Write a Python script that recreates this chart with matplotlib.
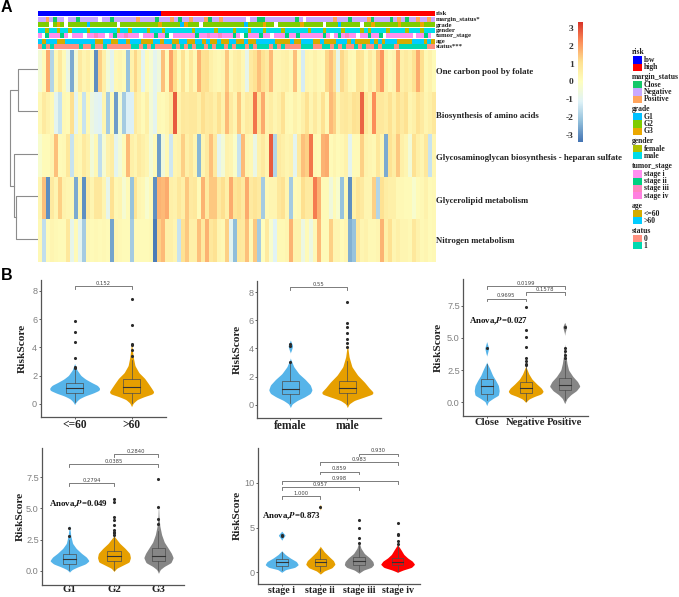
import numpy as np
import matplotlib
matplotlib.use("Agg")
import matplotlib.pyplot as plt
from matplotlib.colors import LinearSegmentedColormap, to_rgb
from matplotlib.patches import Rectangle

plt.rcParams['font.family'] = ['Liberation Serif', 'DejaVu Serif']
plt.rcParams['mathtext.fontset'] = 'stix'

W, H = 679, 597

# ---- panel A data
pathways = ["One carbon pool by folate", "Biosynthesis of amino acids",
            "Glycosaminoglycan biosynthesis - heparan sulfate",
            "Glycerolipid metabolism", "Nitrogen metabolism"]
one_carbon = [-0.5, 0.1, 1.8, -1.8, 0.2, 0.8, 0.1, -0.8, -2.6, -0.5,
              0.7, 0.3, 0.5, 0.1, -3.0, 1.3, 0.5, -0.5, -1.0, 0.2,
              0.3, 0.1, -2.2, 0.4, 1.2, 0.5, -1.0, 0.1, -0.4, -1.0,
              -0.6, 1.5, 0.1, 1.9, 1.1, 0.1, 1.0, 0.1, 0.8, 0.2,
              1.7, 1.0, 1.1, 0.5, 0.3, 0.2, 0.3, 1.4, 0.2, 0.5,
              0.6, 0.2, -0.9, 0.7, 1.0, 1.5, 1.0, 0.7, 1.6, 0.3,
              0.3, 0.4, 0.5, 0.2, 1.5, 0.1, -1.3, 0.3, 0.2, 0.4,
              0.2, 0.1, 1.2, 1.5, 1.0, -0.9, 1.2, 0.7, 0.2, 0.1,
              1.0, 0.9, 0.2, 0.7, 0.3, 1.4, 2.1, 0.5, 0.1, 0.3,
              1.8, 0.5, 0.7, 0.5, 1.0, 1.8, 1.1, 0.2, 0.4, 0.1]
amino_acids = [0.2, 0.7, 0.4, 0.2, -1.0, -1.5, 0.2, 0.1, 1.1, -1.0,
               0.1, -1.5, 0.2, -0.7, -1.0, -1.1, 0.3, -2.0, 0.1, -2.8,
               -0.5, -2.0, -1.2, -1.2, 0.7, 0.4, 0.1, 0.5, -0.5, -1.0,
               0.2, 0.1, 0.3, 0.7, 2.8, 0.4, 0.8, 0.7, 0.8, 0.8,
               0.5, 1.1, 0.7, 0.8, 0.5, 1.0, 0.4, 1.6, 0.7, 0.3,
               1.4, 0.3, 0.7, 0.6, 2.5, 0.8, 1.8, 0.4, 0.6, 0.3,
               0.5, 1.0, 0.2, 0.1, 0.4, 0.2, 0.5, 1.0, 0.3, 0.7,
               0.3, 1.0, 0.2, 1.6, 1.3, 0.3, 0.7, 0.8, 0.6, 1.0,
               0.9, 2.7, 0.8, 0.4, 2.2, 0.8, 0.8, 0.6, 1.0, 0.5,
               1.1, 0.7, 1.0, 0.3, 0.5, 1.0, 0.7, 0.3, 0.5, 0.8]
glycosamino = [-0.3, 0.1, 0.1, 0.3, 1.5, 0.1, 0.2, 0.8, -1.5, 0.3,
               0.2, 0.7, 0.4, -0.5, 0.2, -1.6, -0.4, 0.4, 0.6, -1.0,
               -0.5, 0.1, 1.6, 0.5, 0.3, 0.7, 0.5, 0.3, -0.5, 0.1,
               -2.8, -0.6, 0.2, -1.4, 0.3, 0.4, 1.3, 0.5, 0.8, 0.3,
               -2.4, 0.3, 0.7, 1.5, 0.7, -1.0, -0.5, 0.4, 0.3, -0.2,
               -1.5, 1.6, 0.3, 0.2, -0.8, 0.4, 0.7, 0.3, 2.8, -1.8,
               0.7, 0.5, 0.3, 0.4, -1.0, 0.7, 1.5, 1.3, 2.5, 0.2,
               0.1, 1.7, 1.8, 0.1, 0.3, 0.1, 0.2, 0.4, -1.0, 0.1,
               0.1, 1.3, 0.4, 0.3, 0.2, 0.8, 0.3, -2.6, 1.0, 0.6,
               1.4, 0.5, 0.3, -0.5, 1.0, 0.5, 0.3, 0.8, -1.5, 0.3]
glycerolipid = [0.3, 1.5, -3.0, 0.7, 0.3, 1.3, 0.4, 0.3, 0.2, -2.6,
                0.3, -3.0, 0.7, 0.3, 0.8, 0.8, 0.3, -0.9, 1.0, 0.2,
                0.3, -0.4, 0.1, -2.2, 0.9, 0.3, 0.2, -0.3, 0.1, -3.0,
                1.7, 1.6, 1.8, 0.5, 0.4, 0.8, 0.5, 1.4, 0.7, 0.8,
                0.1, 1.7, 0.7, 1.4, 1.4, 0.7, 1.1, 0.5, 1.8, 0.9,
                1.1, 0.7, 1.8, 0.7, 0.9, 0.7, -2.0, 0.2, 0.3, 0.3,
                0.8, 1.0, 0.3, -2.0, 0.1, 0.2, 1.1, 0.7, 0.7, 2.4,
                1.7, 0.1, 0.1, -0.6, 0.1, -0.3, -2.2, 0.2, -3.0, 0.5,
                0.9, 0.7, 0.3, 0.3, 1.3, -1.8, 1.0, 0.6, 0.5, 0.5,
                0.2, 0.2, 0.1, 0.1, -0.3, 0.1, 0.2, 0.4, 0.1, 0.2]
nitrogen = [0.2, -1.6, 0.1, 0.3, 0.2, 0.1, 0.1, 0.8, -0.9, 0.1,
            -1.0, -2.0, 0.2, 0.1, 0.2, 0.1, 0.2, 0.1, -2.7, 0.3,
            0.2, 0.1, 0.1, -2.0, 0.1, 0.1, 0.1, 0.1, 0.2, -3.3,
            1.3, 1.6, 0.5, 0.5, 0.3, -1.5, 1.0, 1.4, 0.5, 0.5,
            1.5, 0.7, 1.7, 0.8, 1.0, 0.3, 0.2, 1.3, -1.0, -2.3,
            0.8, 0.7, 1.5, 0.1, 1.4, -2.0, 0.0, 0.7, -0.3, -1.1,
            0.2, 0.2, 0.3, 1.7, 0.4, 0.4, -0.7, 0.1, -0.7, 0.2,
            1.6, 0.1, 0.1, 1.3, 0.3, 0.3, 0.1, 0.3, -2.5, -2.2,
            0.8, 0.3, 0.4, 0.2, 0.2, 0.3, 1.7, 0.5, 1.0, 0.3,
            0.5, 0.3, 0.3, 0.2, 0.8, 0.4, 0.2, 0.3, 0.1, 0.2]
heat_rows = [one_carbon, amino_acids, glycosamino, glycerolipid, nitrogen]

# leaf order 0-4, heights of the merges of the row tree
tree_top = 20
tree_low = 22
tree_mid = 24
tree_root = 28

risk_track = "L" * 31 + "H" * 69
margin_track = ("NNPNCNNWNNCNNNNNWNNCNNNNNNPNNNNCNNNPNCNNPNNNPCNNPNNN"
                "NNNWNNCCNNNNNNNNCNWNNNNNNNPNNNCNNNNPCNNNNCNPNCNNPNNPN")
grade_track = ("BBBWBABWBBBBBCBBBBBBBWBBBBBBBBBBABBBBBCABBBWBBBBBBBBB"
               "BBCBBBBABBWBBBBBBABBBBBWBBBCBBBBBWBBABBBBBBABBBBBABBB")
gender_track = ("MMFMMFMMFMMMMFMMMMMMMFMMFMMMMFMMMFMMMMMMMFMMMMMFMMMMF"
                "MMMFMMMFMMMMFMMMMMMFMMMFMMMMFMMMMFMFMMMMFMMMMFMMMFMMM")
stage_track = ("AWBAAABAWAAAWAACAAWABAACAAAWAAABAABWAAAAAABAACAACAAA"
               "BAWBAAABAAWAAABAABAAAAAABAWABACAAWAABAABWAAAAAAAWAABAW")
age_track = ("YOYYYOOYYYYYYYYOOYYOOYYOYYYOOOYYOYYOOYYOOYYOYOOYOOYY"
             "OOYOOYYYYYOOOOYOOYYYOOYOOOYYYOYOOOOYOYOYYYOOOOYYYOYO")
status_track = ("0101000000100100100000011010100001010101101011010110"
                "1011101010000111001101010010100101110111111100")
track_names = ["risk", "margin_status*", "grade", "gender", "tumor_stage", "age", "status***"]
tracks = [risk_track, margin_track, grade_track, gender_track, stage_track, age_track, status_track]

risk_colors = {"L": "#0000FF", "H": "#FF0000"}
margin_colors = {"C": "#14C86A", "N": "#C9A8FF", "P": "#FFA45C", "W": "#FFFFFF"}
grade_colors = {"C": "#00C0FF", "B": "#7FCC00", "A": "#EBA800", "W": "#FFFFFF"}
gender_colors = {"F": "#B0C000", "M": "#00DCE8"}
stage_colors = {"A": "#FF90F0", "B": "#00D080", "C": "#FF85C0", "W": "#FFFFFF"}
age_colors = {"O": "#D4AC00", "Y": "#00CCFF"}
status_colors = {"0": "#FF9080", "1": "#00D8B0"}
track_maps = [risk_colors, margin_colors, grade_colors, gender_colors, stage_colors, age_colors, status_colors]

legend_groups = [
    ("risk", ["low", "high"], ["#0000FF", "#FF0000"]),
    ("margin_status", ["Close", "Negative", "Positive"], ["#14C86A", "#C9A8FF", "#FFA45C"]),
    ("grade", ["G1", "G2", "G3"], ["#00C0FF", "#7FCC00", "#EBA800"]),
    ("gender", ["female", "male"], ["#B0C000", "#00DCE8"]),
    ("tumor_stage", ["stage i", "stage ii", "stage iii", "stage iv"],
     ["#FF90F0", "#00D080", "#FF85C0", "#FF80E0"]),
    ("age", ["<=60", ">60"], ["#D4AC00", "#00CCFF"]),
    ("status", ["0", "1"], ["#FF9080", "#00D8B0"]),
]
legend_title_y = [52, 76.7, 108.7, 140.7, 166, 205.7, 230.7]

# ---- panel B data
BLUE, ORANGE, GREY, RED = "#56B4E9", "#E69F00", "#868686", "#FF0000"

age_cats = ["<=60", ">60"]
age_levels = [[-0.05, 0.15, 0.35, 0.55, 0.75, 0.95, 1.1, 1.3, 1.5, 1.75, 2.0, 2.4, 2.85],
              [-0.2, 0.05, 0.3, 0.5, 0.7, 0.85, 1.1, 1.4, 1.8, 2.2, 2.7, 3.3, 4.3]]
age_widths = [[0, 0.03, 0.08, 0.18, 0.32, 0.43, 0.44, 0.40, 0.30, 0.19, 0.11, 0.04, 0],
              [0, 0.03, 0.10, 0.22, 0.37, 0.39, 0.35, 0.30, 0.23, 0.13, 0.06, 0.03, 0]]
age_boxes = [(0.1, 0.75, 1.1, 1.45, 2.4), (0.05, 0.75, 1.2, 1.72, 3.1)]
age_out = [[5.85, 5.1, 4.4, 3.25, 2.6, 2.5], [7.4, 5.6, 4.2, 4.15, 3.8, 3.4]]

gender_cats = ["female", "male"]
gender_levels = [[-0.2, 0.05, 0.3, 0.55, 0.8, 1.05, 1.4, 1.8, 2.2, 2.7, 3.3, 3.7, 3.9, 4.2, 4.6],
                 [-0.2, 0.05, 0.3, 0.55, 0.75, 0.9, 1.2, 1.6, 2.1, 2.7, 3.4, 4.3]]
gender_widths = [[0, 0.03, 0.12, 0.25, 0.35, 0.38, 0.35, 0.26, 0.15, 0.06, 0, 0, 0.02, 0.04, 0],
                 [0, 0.03, 0.12, 0.30, 0.44, 0.45, 0.38, 0.30, 0.18, 0.08, 0.03, 0]]
gender_boxes = [(0.1, 0.75, 1.15, 1.7, 3.0), (0.05, 0.8, 1.2, 1.7, 3.1)]
gender_out = [[4.35, 4.15, 3.05], [7.3, 5.8, 5.5, 5.1, 4.7, 4.4, 4.1]]

margin_cats = ["Close", "Negative", "Positive"]
margin_levels = [[-0.25, 0.05, 0.3, 0.55, 0.9, 1.3, 1.7, 2.1, 2.6, 3.1, 3.6, 3.8, 4.2, 4.7],
                 [0.0, 0.25, 0.45, 0.65, 0.85, 1.1, 1.4, 1.8, 2.2, 2.8],
                 [-0.1, 0.3, 0.6, 0.9, 1.25, 1.6, 2.0, 2.5, 3.0, 3.6, 4.5, 5.2, 5.4, 5.85, 6.2]]
margin_widths = [[0, 0.04, 0.16, 0.3, 0.32, 0.3, 0.23, 0.15, 0.08, 0, 0, 0.02, 0.05, 0],
                 [0, 0.08, 0.22, 0.4, 0.45, 0.4, 0.29, 0.16, 0.08, 0],
                 [0, 0.06, 0.16, 0.3, 0.39, 0.33, 0.21, 0.1, 0.06, 0.03, 0, 0, 0.01, 0.05, 0]]
margin_boxes = [(0.2, 0.65, 1.25, 1.8, 3.0), (0.1, 0.75, 1.1, 1.6, 2.8), (0.2, 0.95, 1.35, 1.9, 3.2)]
margin_out = [[4.2], [7.4, 5.6, 5.1, 4.3, 3.4, 3.2, 3.0, 2.9], [5.85, 4.2, 4.0, 3.7, 3.4]]

grade_cats = ["G1", "G2", "G3"]
grade_levels = [[-0.1, 0.1, 0.3, 0.55, 0.8, 1.1, 1.4, 1.8, 2.2, 2.8, 3.7],
                [-0.05, 0.2, 0.45, 0.7, 1.05, 1.4, 1.8, 2.2, 2.8],
                [-0.2, 0.1, 0.35, 0.65, 1.05, 1.4, 1.8, 2.3, 2.9, 3.6, 4.4, 5.4]]
grade_widths = [[0, 0.06, 0.18, 0.36, 0.44, 0.38, 0.27, 0.15, 0.07, 0.03, 0],
                [0, 0.06, 0.2, 0.34, 0.37, 0.35, 0.25, 0.13, 0],
                [0, 0.04, 0.13, 0.28, 0.33, 0.29, 0.22, 0.13, 0.07, 0.03, 0.01, 0]]
grade_boxes = [(0.1, 0.55, 0.95, 1.35, 2.5), (0.05, 0.75, 1.15, 1.6, 2.8), (0.05, 0.8, 1.2, 1.8, 3.2)]
grade_out = [[3.4, 2.8], [5.8, 5.55, 4.3, 4.1, 3.7, 3.3, 3.1, 3.0, 2.9], [7.4, 5.1, 4.15, 3.75]]

stage_cats = ["stage i", "stage ii", "stage iii", "stage iv"]
stage_levels = [[0.0, 0.3, 0.55, 0.85, 1.2, 1.6, 2.0, 2.4, 3.6, 3.75, 4.15, 4.6],
                [-0.2, 0.15, 0.5, 0.9, 1.3, 1.7, 2.3, 2.9, 7.0, 7.3, 7.6],
                [-0.1, 0.25, 0.55, 0.85, 1.2, 1.6, 2.1, 2.7, 3.5],
                [0.0, 0.25, 0.55, 0.9, 1.25, 1.6, 2.0, 2.5, 3.1]]
stage_widths = [[0, 0.1, 0.34, 0.43, 0.38, 0.22, 0.09, 0, 0, 0.02, 0.09, 0],
                [0, 0.1, 0.3, 0.38, 0.34, 0.24, 0.1, 0, 0, 0.03, 0],
                [0, 0.12, 0.32, 0.38, 0.36, 0.28, 0.14, 0.05, 0],
                [0, 0.14, 0.36, 0.44, 0.38, 0.26, 0.16, 0.09, 0]]
stage_boxes = [(0.2, 0.7, 1.1, 1.45, 2.3), (0.1, 0.65, 1.1, 1.5, 2.6), (0.1, 0.85, 1.25, 1.7, 3.0), (0.1, 0.85, 1.15, 1.55, 3.0)]
stage_out = [[4.2, 4.1], [7.3], [5.8, 5.0, 3.8, 3.3], [5.5, 4.3, 4.2, 3.5, 3.2]]


def px_axes(fig, left, top, right, bottom):
    return fig.add_axes([left / W, 1 - bottom / H, (right - left) / W, (bottom - top) / H])


def draw_violin(ax, pos, levels, widths, color):
    # resample the read outline so the edge comes out round, like a density
    yy = np.arange(levels[0], levels[-1], 0.01)
    ww = np.interp(yy, levels, widths)
    kernel = np.hanning(21)
    ww = np.convolve(ww, kernel / kernel.sum(), mode="same")
    ax.fill_betweenx(yy, pos - ww, pos + ww, color=color, lw=0, zorder=2)


def draw_box(ax, pos, box):
    low, q1, med, q3, high = box
    ax.plot([pos, pos], [low, q1], color="#4d4d4d", lw=0.5, zorder=3)
    ax.plot([pos, pos], [q3, high], color="#4d4d4d", lw=0.5, zorder=3)
    ax.add_patch(Rectangle((pos - 0.15, q1), 0.3, q3 - q1, fill=False, ec="#4d4d4d", lw=0.5, zorder=3))
    ax.plot([pos - 0.15, pos + 0.15], [med, med], color="#333333", lw=0.8, zorder=3)


def draw_bracket(ax, a, b, y, tip, label):
    ax.plot([a, a, b, b], [y - tip, y, y, y - tip], color="#666666", lw=0.6, zorder=4)
    ax.text((a + b) / 2, y + tip * 0.2, label, ha="center", va="bottom", fontsize=3.8,
            color="#444444", family="DejaVu Sans")


def violin_panel(rect, xlim, ylim, cats, levels, widths, boxes, outs, colors, yticks, yfmt,
                 brackets, anova=None, catsize=8.3, label_dx=15, xpad=0.5):
    ax = px_axes(fig, *rect)
    for i in range(len(cats)):
        draw_violin(ax, i + 1, levels[i], widths[i], colors[i])
        draw_box(ax, i + 1, boxes[i])
        ax.scatter([i + 1] * len(outs[i]), outs[i], s=5, color="#2b2b2b", lw=0, zorder=4)
    tip = (ylim[1] - ylim[0]) * 0.018
    for a, b, y, label in brackets:
        draw_bracket(ax, a, b, y, tip, label)
    if anova:
        ax.text(anova[0], anova[1], anova[2], fontsize=6.4, fontweight="bold", va="center", color="#111111")
    ax.set_xlim(*xlim)
    ax.set_ylim(*ylim)
    ax.set_xticks(range(1, len(cats) + 1))
    ax.set_xticklabels(cats, fontsize=catsize, fontweight="bold", color="#222222")
    ax.set_yticks(yticks)
    ax.set_yticklabels([yfmt % t for t in yticks], fontsize=6.6, color="#808080", family="Liberation Sans")
    ax.tick_params(axis="x", length=1.5, width=0.6, color="#444444", pad=xpad)
    ax.tick_params(axis="y", length=1.5, width=0.6, color="#444444", pad=1)
    ax.set_ylabel("RiskScore", fontsize=8.2, fontweight="bold", color="#222222")
    ax.yaxis.set_label_coords(-label_dx / (rect[2] - rect[0]), 0.5)
    for side in ["top", "right"]:
        ax.spines[side].set_visible(False)
    for side in ["left", "bottom"]:
        ax.spines[side].set_color("#555555")
        ax.spines[side].set_linewidth(0.9)
    return ax


fig = plt.figure(figsize=(W / 100, H / 100), dpi=100)

# page overlay in pixels for the tracks, legends and letters
page = fig.add_axes([0, 0, 1, 1])
page.axis("off")

page.text(1, 8, "A", fontsize=11.5, fontweight="bold", va="center", family="Liberation Sans")
page.text(1, 276, "B", fontsize=11.5, fontweight="bold", va="center", family="Liberation Sans")

# annotation tracks
track_tops = [11.3, 16.9, 22.6, 28.0, 33.6, 39.0, 44.4]
for name, track, cmap, top in zip(track_names, tracks, track_maps, track_tops):
    rgb = np.array([[to_rgb(cmap[c]) for c in track]])
    page.imshow(rgb, extent=(37.5, 434.5, top + 4.9, top), aspect="auto", interpolation="nearest", zorder=1)
    page.text(436, top + 2.4, name, fontsize=4.9, fontweight="bold", va="center", color="#222222")
page.set_xlim(0, W)
page.set_ylim(H, 0)

# heatmap
heat_colors = ["#4575B4", "#91BFDB", "#E0F3F8", "#FFFFBF", "#FEE090", "#FC8D59", "#D73027"]
heat_cmap = LinearSegmentedColormap.from_list("rdylbu", heat_colors)
vmin, vmax = -3.42, 3.35
ax_heat = px_axes(fig, 37.5, 50, 434.5, 262)
for i, row in enumerate(heat_rows):
    ax_heat.imshow(np.array([row]), extent=(0, 1, i + 1, i), aspect="auto", cmap=heat_cmap,
                   vmin=vmin, vmax=vmax, interpolation="nearest")
ax_heat.set_xlim(0, 1)
ax_heat.set_ylim(5, 0)
ax_heat.axis("off")

label_y = [72, 116, 158, 201, 241]
for name, y in zip(pathways, label_y):
    page.text(436, y, name, fontsize=6.3, fontweight="bold", va="center", color="#222222")

# row tree
ax_tree = px_axes(fig, 0, 50, 37.5, 262)
ax_tree.set_xlim(37.5, 0)
ax_tree.set_ylim(5, 0)
ax_tree.axis("off")
tree_color = "#8c8c8c"
y0, y1, y2, y3, y4 = 0.45, 1.45, 2.45, 3.45, 4.45
node_top = (y0 + y1) / 2
node_low = (y3 + y4) / 2
node_mid = (y2 + node_low) / 2
ax_tree.plot([0, tree_top, tree_top, 0], [y0, y0, y1, y1], color=tree_color, lw=0.8)
ax_tree.plot([0, tree_low, tree_low, 0], [y3, y3, y4, y4], color=tree_color, lw=0.8)
ax_tree.plot([0, tree_mid, tree_mid, tree_low], [y2, y2, node_low, node_low], color=tree_color, lw=0.8)
ax_tree.plot([tree_top, tree_root, tree_root, tree_mid], [node_top, node_top, node_mid, node_mid],
             color=tree_color, lw=0.8)

# colour bar
ax_bar = px_axes(fig, 578, 22, 583, 142)
ax_bar.imshow(np.linspace(vmax, vmin, 200)[:, None], extent=(0, 1, vmin, vmax), aspect="auto",
              cmap=heat_cmap, vmin=vmin, vmax=vmax)
ax_bar.set_xticks([])
ax_bar.yaxis.tick_left()
bar_ticks = [-3, -2, -1, 0, 1, 2, 3]
ax_bar.set_yticks(bar_ticks)
ax_bar.set_yticklabels([str(t) for t in bar_ticks], fontsize=6.8, fontweight="bold", color="#333333")
ax_bar.tick_params(axis="y", length=0, pad=3)
for s in ax_bar.spines.values():
    s.set_visible(False)

# legends
for (title, names, cols), ty in zip(legend_groups, legend_title_y):
    page.text(632, ty, title, fontsize=5.5, fontweight="bold", va="center", color="#222222")
    for j, (n, c) in enumerate(zip(names, cols)):
        sy = ty + 4.4 + j * 7.2
        page.add_patch(Rectangle((633, sy), 9, 7.2, color=c, lw=0))
        page.text(643.5, sy + 3.5, n, fontsize=5.5, fontweight="bold", va="center", color="#222222")

# violins
violin_panel((40.7, 280, 165.7, 416.7), (0.404, 2.6), (-0.92, 8.77), age_cats, age_levels, age_widths,
             age_boxes, age_out, [BLUE, ORANGE], [0, 2, 4, 6, 8], "%d",
             [(1, 2, 8.33, "0.152")], label_dx=14)
violin_panel((257.3, 280.7, 381, 417.7), (0.42, 2.59), (-0.93, 8.83), gender_cats, gender_levels, gender_widths,
             gender_boxes, gender_out, [BLUE, ORANGE], [0, 2, 4, 6, 8], "%d",
             [(1, 2, 8.36, "0.55")], label_dx=15)
violin_panel((463.3, 279, 587.7, 415.7), (0.4, 3.59), (-1.04, 9.56), margin_cats, margin_levels, margin_widths,
             margin_boxes, margin_out, [BLUE, ORANGE, GREY], [0, 2.5, 5, 7.5], "%.1f",
             [(1, 3, 9.0, "0.0199"), (2, 3, 8.53, "0.1578"), (1, 2, 8.03, "0.9695")],
             (0.55, 6.3, r"Anova,$\mathbfit{P}$=0.027"), catsize=7.7, label_dx=20)
violin_panel((42.3, 448.3, 184.3, 584.7), (0.39, 3.58), (-1.12, 9.83), grade_cats, grade_levels, grade_widths,
             grade_boxes, grade_out, [BLUE, ORANGE, GREY], [0, 2.5, 5, 7.5], "%.1f",
             [(2, 3, 9.35, "0.2840"), (1, 3, 8.55, "0.0385"), (1, 2, 7.02, "0.2794")],
             (0.53, 5.3, r"Anova,$\mathbfit{P}$=0.049"), catsize=7.8, label_dx=17, xpad=-1)
violin_panel((258.3, 447.7, 420, 583.7), (0.394, 4.58), (-1.28, 13.95), stage_cats, stage_levels, stage_widths,
             stage_boxes, stage_out, [BLUE, ORANGE, GREY, RED], [0, 5, 10], "%d",
             [(3, 4, 13.3, "0.930"), (2, 4, 12.3, "0.983"), (2, 3, 11.27, "0.859"),
              (1, 4, 10.2, "0.998"), (1, 3, 9.5, "0.957"), (1, 2, 8.5, "1.000")],
             (0.5, 6.2, r"Anova,$\mathbfit{P}$=0.873"), catsize=7.2, label_dx=16)

fig.savefig("out.png", dpi=100)
